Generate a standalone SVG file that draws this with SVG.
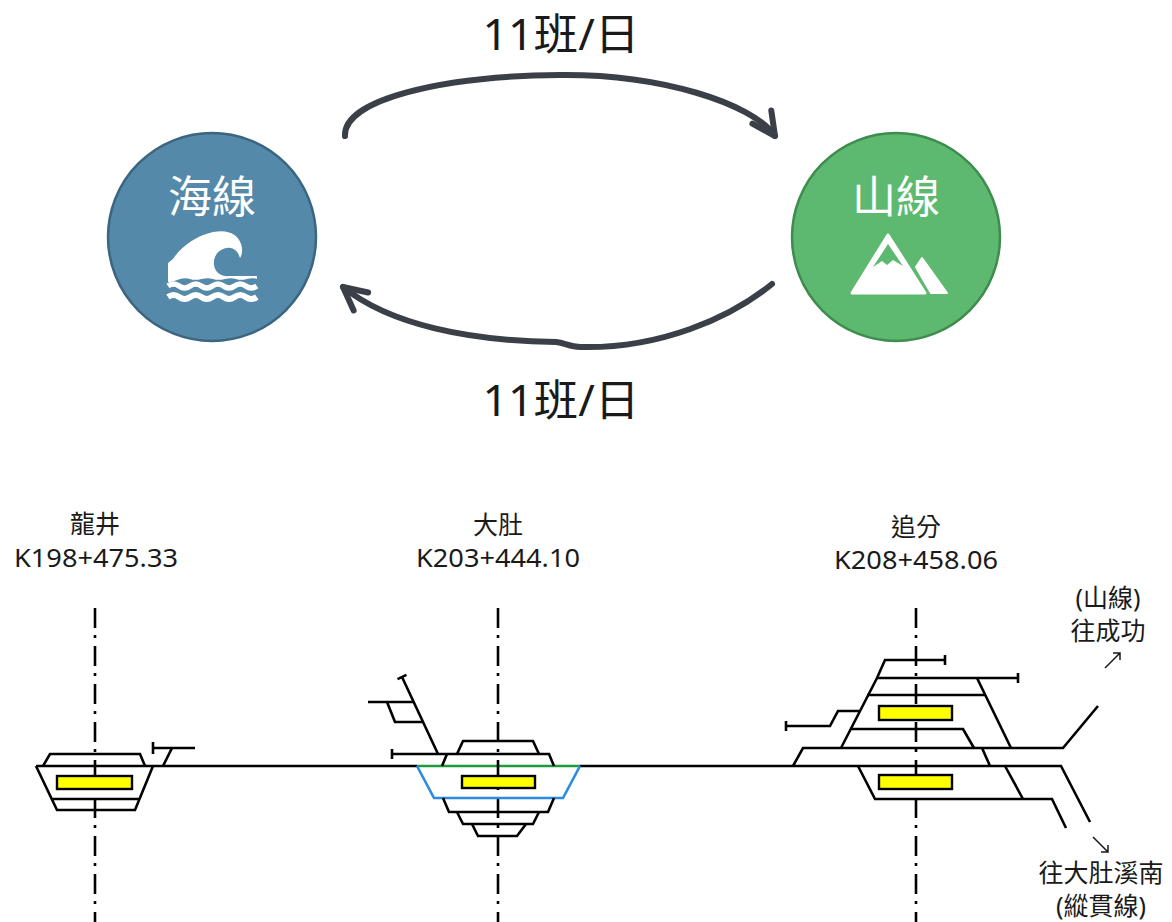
<svg xmlns="http://www.w3.org/2000/svg" width="1172" height="922" viewBox="0 0 1172 922">
<defs>
<style>
.t{font-family:"Noto Sans","Noto Sans CJK TC",sans-serif;fill:#1a1a1a;text-anchor:middle}
.big{font-size:43px}
.lbl{font-size:25px}
.km{font-size:25px}
.node{font-size:44px;fill:#ffffff}
.trk{fill:none;stroke:#000;stroke-width:2.6;stroke-linejoin:miter}
.cl{fill:none;stroke:#000;stroke-width:2.6;stroke-dasharray:20 7 3 8}
.plat{fill:#ffff00;stroke:#000;stroke-width:2.4}
.arr{fill:none;stroke:#3b3f47;stroke-width:6;stroke-linecap:round}
.ico{fill:#ffffff}
.sm{fill:none;stroke:#1a1a1a;stroke-width:1.5}
</style>
<marker id="chev" markerUnits="userSpaceOnUse" markerWidth="60" markerHeight="60" viewBox="-30 -30 60 60" refX="0" refY="0" orient="auto" overflow="visible">
<path d="M-23,-11.5 L0,0 L-23,11.5" fill="none" stroke="#3b3f47" stroke-width="6" stroke-linecap="round" stroke-linejoin="round"/>
</marker>
</defs>
<rect width="1172" height="922" fill="#ffffff"/>

<g id="connectors">
<path class="arr" d="M345,136 C343,100 440,76 560,75 C660,74 752,103 775,136" marker-end="url(#chev)"/>
<path class="arr" d="M772,284 C730,318 660,349 580,347 C570,347 565,343 556,342 C470,341 390,325 343,287" marker-end="url(#chev)"/>
</g>

<g id="label-top"><text class="t big" x="561" y="50" textLength="157" lengthAdjust="spacingAndGlyphs">11班/日</text></g>
<g id="label-bottom"><text class="t big" x="561" y="416" textLength="157" lengthAdjust="spacingAndGlyphs">11班/日</text></g>

<g id="node-sea">
<circle cx="212" cy="237" r="104" fill="#5589a9" stroke="#3b6580" stroke-width="2.5"/>
<text class="t node" x="212" y="213">海線</text>
<path class="ico" d="M168,280 L168,263 L173,259 C180,248 195,236 213,232 C228,229 238,234 241,244 C243,250 242,255 240,258 C238,251 233,247 227,248 C218,249 213,257 214,265 C215,273 222,277 230,276 L257,276 L257,279 C250,276 244,282 236,279 C228,276 222,282 213,279 C205,276 198,282 190,279 C182,276 175,282 168,282 Z"/>
<path d="M168,286 q5.6,-4 11.1,0 t11.1,0 t11.1,0 t11.1,0 t11.1,0 t11.1,0 t11.1,0 t11.1,0" fill="none" stroke="#fff" stroke-width="5.5"/>
<path d="M168,297 q5.6,-4 11.1,0 t11.1,0 t11.1,0 t11.1,0 t11.1,0 t11.1,0 t11.1,0 t11.1,0" fill="none" stroke="#fff" stroke-width="6"/>
</g>

<g id="node-mountain">
<circle cx="896" cy="237" r="104" fill="#5db970" stroke="#3e8c4e" stroke-width="2.5"/>
<text class="t node" x="896" y="213">山線</text>
<path class="ico" d="M852,293 L888,235 L925,293 Z" stroke="#fff" stroke-width="3" stroke-linejoin="round"/>
<path d="M888,244 L873,267 L882,261 L887,265 L893,260 L903,266 Z" fill="#5db970"/>
<path class="ico" d="M916,267 L922,258 L947,293 L931,293 Z" stroke="#fff" stroke-width="2" stroke-linejoin="round"/>
</g>

<g id="mainline">
<path class="trk" d="M36,766 L417,766"/>
<path d="M417,766 L580,766" fill="none" stroke="#1f9a3c" stroke-width="2.6"/>
<path class="trk" d="M580,766 L1061,766 L1090,822"/>
</g>

<g id="station-longjing">
<text class="t lbl" x="95" y="533">龍井</text>
<text class="t km" x="96" y="567" textLength="164" lengthAdjust="spacingAndGlyphs">K198+475.33</text>
<line class="cl" x1="95" y1="608" x2="95" y2="922"/>
<path class="trk" d="M43,766 L50,754 L140,754 L145,766"/>
<path class="trk" d="M36,766 L57,810 L135,810 L153,766"/>
<path class="trk" d="M52,799 L139,799"/>
<path class="trk" d="M163,766 L172,748"/>
<path class="trk" d="M153,748 L195,748 M153,742 L153,754"/>
<rect class="plat" x="57" y="776" width="75" height="13"/>
</g>

<g id="station-dadu">
<text class="t lbl" x="498" y="534">大肚</text>
<text class="t km" x="498" y="567" textLength="164" lengthAdjust="spacingAndGlyphs">K203+444.10</text>
<line class="cl" x1="498" y1="608" x2="498" y2="922"/>
<path d="M417,766 L434,798 L563,798 L580,766" fill="none" stroke="#2a8be0" stroke-width="2.6"/>
<path class="trk" d="M442,766 L447,754"/>
<path class="trk" d="M392,754 L549,754 L554,766 M392,749 L392,759"/>
<path class="trk" d="M457,754 L463,741 L533,741 L539,754"/>
<path class="trk" d="M438,754 L402,677 M397.5,679.1 L406.5,674.9"/>
<path class="trk" d="M368,702 L414,702 M387,702 L395,722 L423,722"/>
<path class="trk" d="M443,798 L449,812 L548,812 L554,798"/>
<path class="trk" d="M457,812 L463,824 L533,824 L539,812"/>
<path class="trk" d="M472,824 L478,836 L517,836 L526,824"/>
<rect class="plat" x="462" y="776" width="73" height="12"/>
</g>

<g id="station-zhuifen">
<text class="t lbl" x="916" y="536">追分</text>
<text class="t km" x="916" y="569" textLength="164" lengthAdjust="spacingAndGlyphs">K208+458.06</text>
<line class="cl" x1="916" y1="608" x2="916" y2="922"/>
<path class="trk" d="M793,766 L803,748 L1063,748 L1098,706"/>
<path class="trk" d="M841,748 L877,678 L885,660 L945,660 M945,655 L945,665"/>
<path class="trk" d="M877,678 L1018,678 M1018,673 L1018,683"/>
<path class="trk" d="M977,678 L1011,748"/>
<path class="trk" d="M867,695 L985,695"/>
<path class="trk" d="M850,729 L963,729 L974,748"/>
<path class="trk" d="M982,748 L990,766"/>
<path class="trk" d="M786,726 L830,726 L838,711 L860,711 M786,721 L786,731"/>
<path class="trk" d="M858,766 L875,799 L1052,799 L1066,828"/>
<path class="trk" d="M1005,766 L1023,799"/>
<rect class="plat" x="879" y="706" width="73" height="14"/>
<rect class="plat" x="879" y="775" width="73" height="14"/>
</g>

<g id="label-shan">
<text class="t lbl" x="1108" y="607">(山線)</text>
<text class="t lbl" x="1108" y="640">往成功</text>
<path class="sm" d="M1105,668 L1120,653 M1113,653 L1120,653 L1120,660"/>
</g>
<g id="label-zongguan">
<text class="t lbl" x="1101" y="882">往大肚溪南</text>
<text class="t lbl" x="1101" y="915">(縱貫線)</text>
<path class="sm" d="M1093,837 L1108,852 M1101,852 L1108,852 L1108,845"/>
</g>
</svg>
